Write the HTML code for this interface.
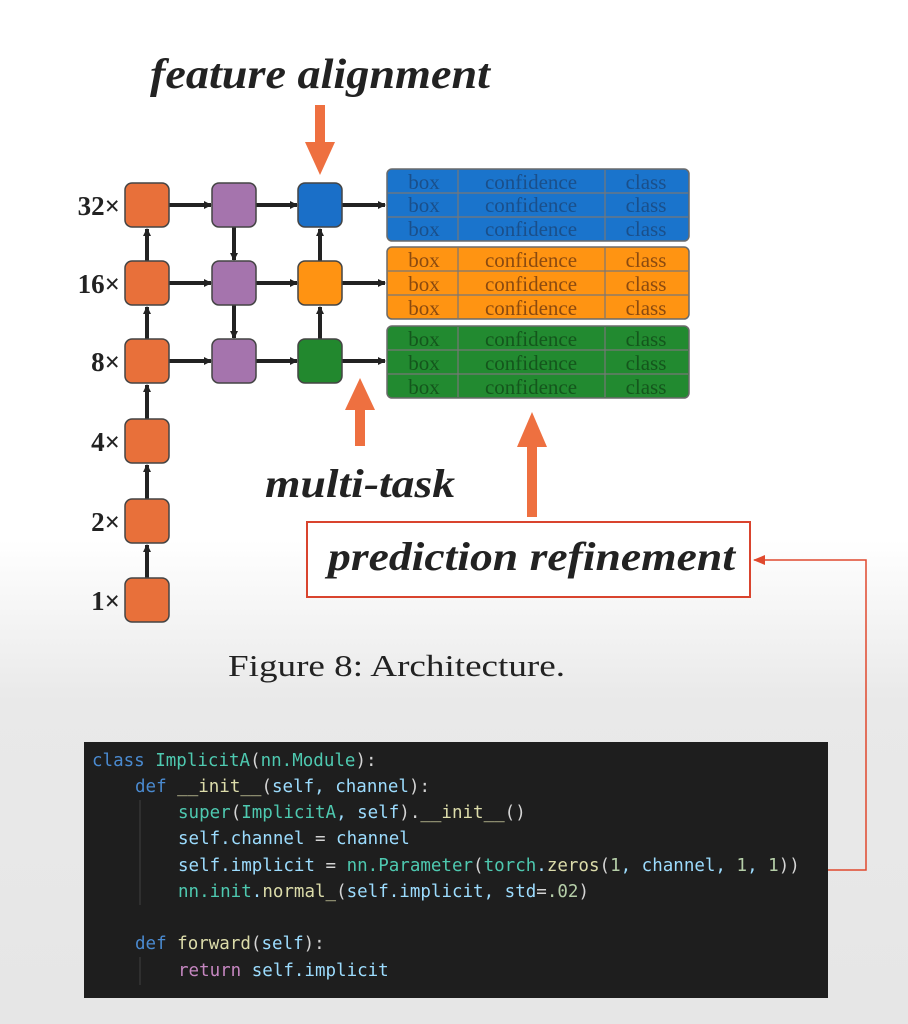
<!DOCTYPE html>
<html><head><style>
body{margin:0;width:908px;height:1024px;overflow:hidden;background:linear-gradient(#fff 0,#fff 540px,#e9e9e9 700px,#e6e6e6 1024px);}
</style></head><body>
<svg width="908" height="1024" xmlns="http://www.w3.org/2000/svg" style="position:absolute;left:0;top:0">
<defs>
<marker id="ah" markerWidth="8" markerHeight="8" refX="7" refY="4" orient="auto" markerUnits="userSpaceOnUse"><path d="M0,0 L8,4 L0,8z" fill="#222"/></marker>
<marker id="ah2" markerWidth="12" markerHeight="10" refX="11" refY="5" orient="auto" markerUnits="userSpaceOnUse"><path d="M0,0 L12,5 L0,10z" fill="#e0492e"/></marker>
</defs>
<g font-family="Liberation Serif,serif" font-weight="bold" font-style="italic" fill="#222">
<text x="150" y="88" font-size="42" textLength="340" lengthAdjust="spacingAndGlyphs">feature alignment</text>
<text x="265" y="497" font-size="40" textLength="190" lengthAdjust="spacingAndGlyphs">multi-task</text>
</g>
<g font-family="Liberation Serif,serif" font-weight="bold" font-size="27" fill="#222" text-anchor="end">
<text x="120" y="215">32×</text><text x="120" y="293">16×</text><text x="120" y="371">8×</text>
<text x="120" y="451">4×</text><text x="120" y="531">2×</text><text x="120" y="610">1×</text>
</g>
<text x="228" y="676" font-family="Liberation Serif,serif" font-size="31" fill="#222" textLength="337" lengthAdjust="spacingAndGlyphs">Figure 8: Architecture.</text>
<g fill="#ee7040">
<rect x="315" y="105" width="10" height="40"/><path d="M305,142 L335,142 L320,175z"/>
<rect x="355" y="408" width="10" height="38"/><path d="M345,410 L375,410 L360,378z"/>
<rect x="527" y="445" width="10" height="72"/><path d="M517,447 L547,447 L532,412z"/>
</g>
<g stroke="#222" stroke-width="4" fill="none" marker-end="url(#ah)">
<line x1="147" y1="578" x2="147" y2="545"/>
<line x1="147" y1="499" x2="147" y2="465"/>
<line x1="147" y1="419" x2="147" y2="385"/>
<line x1="147" y1="339" x2="147" y2="307"/>
<line x1="147" y1="261" x2="147" y2="229"/>
<line x1="169" y1="205" x2="211" y2="205"/><line x1="169" y1="283" x2="211" y2="283"/><line x1="169" y1="361" x2="211" y2="361"/>
<line x1="256" y1="205" x2="297" y2="205"/><line x1="256" y1="283" x2="297" y2="283"/><line x1="256" y1="361" x2="297" y2="361"/>
<line x1="234" y1="227" x2="234" y2="260"/><line x1="234" y1="305" x2="234" y2="338"/>
<line x1="320" y1="339" x2="320" y2="307"/><line x1="320" y1="261" x2="320" y2="229"/>
<line x1="342" y1="205" x2="385" y2="205"/><line x1="342" y1="283" x2="385" y2="283"/><line x1="342" y1="361" x2="385" y2="361"/>
</g>
<g stroke="#444" stroke-width="1.5">
<rect x="125" y="183" width="44" height="44" rx="7" fill="#e8703a"/>
<rect x="125" y="261" width="44" height="44" rx="7" fill="#e8703a"/>
<rect x="125" y="339" width="44" height="44" rx="7" fill="#e8703a"/>
<rect x="125" y="419" width="44" height="44" rx="7" fill="#e8703a"/>
<rect x="125" y="499" width="44" height="44" rx="7" fill="#e8703a"/>
<rect x="125" y="578" width="44" height="44" rx="7" fill="#e8703a"/>
<rect x="212" y="183" width="44" height="44" rx="7" fill="#a574ad"/>
<rect x="212" y="261" width="44" height="44" rx="7" fill="#a574ad"/>
<rect x="212" y="339" width="44" height="44" rx="7" fill="#a574ad"/>
<rect x="298" y="183" width="44" height="44" rx="7" fill="#1a6fc8"/>
<rect x="298" y="261" width="44" height="44" rx="7" fill="#ff9312"/>
<rect x="298" y="339" width="44" height="44" rx="7" fill="#22882e"/>
</g>
<g stroke="#6a6a6a" stroke-width="1.5">
<rect x="387" y="169" width="302" height="72" rx="5" fill="#1a74cc"/>
<rect x="387" y="247" width="302" height="72" rx="5" fill="#ff9412"/>
<rect x="387" y="326" width="302" height="72" rx="5" fill="#228a30"/>
<g fill="none" stroke-width="1.2" stroke="#777">
<line x1="388" y1="193" x2="688" y2="193"/><line x1="388" y1="217" x2="688" y2="217"/>
<line x1="388" y1="271" x2="688" y2="271"/><line x1="388" y1="295" x2="688" y2="295"/>
<line x1="388" y1="350" x2="688" y2="350"/><line x1="388" y1="374" x2="688" y2="374"/>
<line x1="458" y1="170" x2="458" y2="240"/><line x1="605" y1="170" x2="605" y2="240"/>
<line x1="458" y1="248" x2="458" y2="318"/><line x1="605" y1="248" x2="605" y2="318"/>
<line x1="458" y1="327" x2="458" y2="397"/><line x1="605" y1="327" x2="605" y2="397"/>
</g>
</g>
<g font-family="Liberation Serif,serif" font-size="21" text-anchor="middle">
<g fill="#1a4f8a"><text x="424" y="189">box</text><text x="531" y="189">confidence</text><text x="646" y="189">class</text>
<text x="424" y="212">box</text><text x="531" y="212">confidence</text><text x="646" y="212">class</text>
<text x="424" y="236">box</text><text x="531" y="236">confidence</text><text x="646" y="236">class</text></g>
<g fill="#8a4a10"><text x="424" y="267">box</text><text x="531" y="267">confidence</text><text x="646" y="267">class</text>
<text x="424" y="291">box</text><text x="531" y="291">confidence</text><text x="646" y="291">class</text>
<text x="424" y="315">box</text><text x="531" y="315">confidence</text><text x="646" y="315">class</text></g>
<g fill="#14561c"><text x="424" y="346">box</text><text x="531" y="346">confidence</text><text x="646" y="346">class</text>
<text x="424" y="370">box</text><text x="531" y="370">confidence</text><text x="646" y="370">class</text>
<text x="424" y="394">box</text><text x="531" y="394">confidence</text><text x="646" y="394">class</text></g>
</g>
<rect x="307" y="522" width="443" height="75" fill="#fff" stroke="#d9442e" stroke-width="2"/>
<text x="328" y="570" font-family="Liberation Serif,serif" font-weight="bold" font-style="italic" font-size="40" fill="#222" textLength="407" lengthAdjust="spacingAndGlyphs">prediction refinement</text>
<polyline points="828,870 866,870 866,560 754,560" fill="none" stroke="#e0492e" stroke-width="1.5" marker-end="url(#ah2)"/>
<rect x="84" y="742" width="744" height="256" fill="#1e1e1e"/>
<g font-family="DejaVu Sans Mono,Liberation Mono,monospace" font-size="17.5" fill="#9cdcfe">
<text x="92" y="766"><tspan fill="#4a8ad0">class</tspan> <tspan fill="#4ec9b0">ImplicitA</tspan><tspan fill="#d4d4d4">(</tspan><tspan fill="#4ec9b0">nn.Module</tspan><tspan fill="#d4d4d4">):</tspan></text>
<text x="135" y="792"><tspan fill="#4a8ad0">def</tspan> <tspan fill="#dcdcaa">__init__</tspan><tspan fill="#d4d4d4">(</tspan>self, channel<tspan fill="#d4d4d4">):</tspan></text>
<text x="178" y="818"><tspan fill="#4ec9b0">super</tspan><tspan fill="#d4d4d4">(</tspan><tspan fill="#4ec9b0">ImplicitA</tspan>, self<tspan fill="#d4d4d4">).</tspan><tspan fill="#dcdcaa">__init__</tspan><tspan fill="#d4d4d4">()</tspan></text>
<text x="178" y="844">self.channel <tspan fill="#d4d4d4">=</tspan> channel</text>
<text x="178" y="871">self.implicit <tspan fill="#d4d4d4">=</tspan> <tspan fill="#4ec9b0">nn.Parameter</tspan><tspan fill="#d4d4d4">(</tspan><tspan fill="#4ec9b0">torch</tspan>.<tspan fill="#dcdcaa">zeros</tspan><tspan fill="#d4d4d4">(</tspan><tspan fill="#b5cea8">1</tspan>, channel, <tspan fill="#b5cea8">1</tspan>, <tspan fill="#b5cea8">1</tspan><tspan fill="#d4d4d4">))</tspan></text>
<text x="178" y="897"><tspan fill="#4ec9b0">nn.init</tspan>.<tspan fill="#dcdcaa">normal_</tspan><tspan fill="#d4d4d4">(</tspan>self.implicit, std<tspan fill="#d4d4d4">=</tspan><tspan fill="#b5cea8">.02</tspan><tspan fill="#d4d4d4">)</tspan></text>
<text x="135" y="949"><tspan fill="#4a8ad0">def</tspan> <tspan fill="#dcdcaa">forward</tspan><tspan fill="#d4d4d4">(</tspan>self<tspan fill="#d4d4d4">):</tspan></text>
<text x="178" y="976"><tspan fill="#c586c0">return</tspan> self.implicit</text>
</g>
<g stroke="#404040" stroke-width="1"><line x1="140" y1="800" x2="140" y2="905"/><line x1="140" y1="957" x2="140" y2="985"/></g>
</svg>
</body></html>
